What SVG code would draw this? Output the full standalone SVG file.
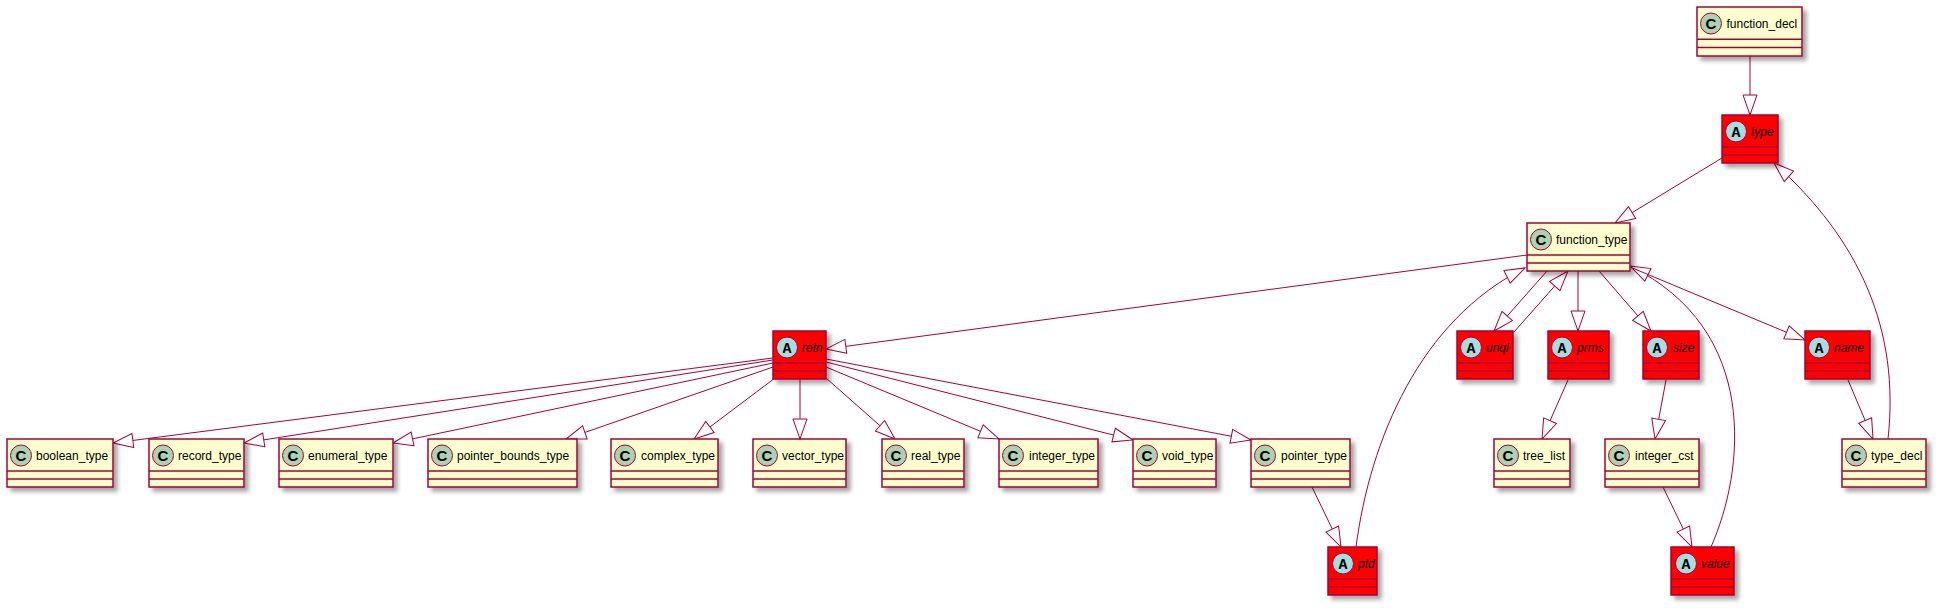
<svg xmlns="http://www.w3.org/2000/svg" width="1944" height="613" viewBox="0 0 1944 613">
<style>
.box{stroke:#A80036;stroke-width:1.5;filter:url(#sh)}
.c .box{fill:#FEFECE}
.a .box{fill:#FF0000}
.div{stroke:#A80036;stroke-width:1.5}
.ci{fill:#ADD1B2;stroke:#A80036;stroke-width:1}
.ai{fill:#A9DCDF;stroke:#A80036;stroke-width:1}
.ic{font-family:"Liberation Sans",Arial,sans-serif;font-weight:bold;font-size:15px;text-anchor:middle;fill:#000}
.ia{font-family:"Liberation Mono","Courier New",monospace;font-weight:bold;font-size:15px;text-anchor:middle;fill:#000}
.lbl{font-family:"Liberation Sans",Arial,sans-serif;font-size:12px;fill:#000}
.a .lbl{font-style:italic}
.e path{fill:none;stroke:#A80036;stroke-width:1;marker-end:url(#tri)}
</style>
<defs>
<filter id="sh" x="-10%" y="-10%" width="140%" height="150%">
<feGaussianBlur in="SourceAlpha" stdDeviation="2"/>
<feOffset dx="4" dy="4" result="o"/>
<feComponentTransfer><feFuncA type="linear" slope="0.35"/></feComponentTransfer>
<feMerge><feMergeNode/><feMergeNode in="SourceGraphic"/></feMerge>
</filter>
<marker id="tri" markerUnits="userSpaceOnUse" markerWidth="22" markerHeight="16" viewBox="0 0 22 16" refX="21" refY="8" orient="auto">
<path d="M1,1 L21,8 L1,15 Z" fill="#FFFFFF" stroke="#A80036" stroke-width="1"/>
</marker>
</defs>
<rect width="1944" height="613" fill="#FFFFFF"/>

<g id="connectors" class="e">
<path d="M1750,56 L1750,115"/>
<path d="M1722,158 L1615,223"/>
<path d="M1888,439 C1900,330 1860,240 1774,163"/>
<path d="M1527,255 L826,349"/>
<path d="M773,358 L113,443"/>
<path d="M773,360 L244,443"/>
<path d="M773,363 L393,443"/>
<path d="M773,367 L566,439"/>
<path d="M775,378 L694,439"/>
<path d="M800,379 L800,439"/>
<path d="M826,378 L895,439"/>
<path d="M826,367 L999,439"/>
<path d="M826,362 L1133,440"/>
<path d="M826,359 L1251,440"/>
<path d="M1312,487 L1341,547"/>
<path d="M1356,547 C1370,440 1420,320 1525,268"/>
<path d="M1547,271 L1494,331"/>
<path d="M1514,332 L1568,271"/>
<path d="M1578,271 L1578,331"/>
<path d="M1599,271 L1651,331"/>
<path d="M1568,380 L1542,439"/>
<path d="M1666,380 L1655,439"/>
<path d="M1663,487 L1692,547"/>
<path d="M1711,547 C1745,470 1760,330 1630,266"/>
<path d="M1630,267 L1805,340"/>
<path d="M1848,380 L1873,439"/>
</g>

<g id="function_decl" class="c"><rect class="box" x="1697" y="7" width="105" height="49"/><line class="div" x1="1697" y1="39.3" x2="1802" y2="39.3"/><line class="div" x1="1697" y1="47.5" x2="1802" y2="47.5"/><circle class="ci" cx="1711" cy="23.5" r="10.5"/><text class="ic" x="1711" y="28.8">C</text><text class="lbl" x="1726.5" y="28">function_decl</text></g>

<g id="type" class="a"><rect class="box" x="1722" y="115" width="56" height="48"/><line class="div" x1="1722" y1="147" x2="1778" y2="147"/><line class="div" x1="1722" y1="155" x2="1778" y2="155"/><circle class="ci ai" cx="1736" cy="131.5" r="10.5"/><text class="ia" x="1736" y="136.5">A</text><text class="lbl" x="1751" y="136">type</text></g>

<g id="function_type" class="c"><rect class="box" x="1527" y="223" width="103" height="48"/><line class="div" x1="1527" y1="255" x2="1630" y2="255"/><line class="div" x1="1527" y1="263" x2="1630" y2="263"/><circle class="ci" cx="1541" cy="239.5" r="10.5"/><text class="ic" x="1541" y="244.8">C</text><text class="lbl" x="1556" y="244">function_type</text></g>

<g id="retn" class="a"><rect class="box" x="773" y="331" width="53" height="48"/><line class="div" x1="773" y1="363" x2="826" y2="363"/><line class="div" x1="773" y1="371" x2="826" y2="371"/><circle class="ci ai" cx="787" cy="347.5" r="10.5"/><text class="ia" x="787" y="352.5">A</text><text class="lbl" x="802" y="352">retn</text></g>

<g id="unql" class="a"><rect class="box" x="1457" y="331" width="56" height="48"/><line class="div" x1="1457" y1="363" x2="1513" y2="363"/><line class="div" x1="1457" y1="371" x2="1513" y2="371"/><circle class="ci ai" cx="1471" cy="347.5" r="10.5"/><text class="ia" x="1471" y="352.5">A</text><text class="lbl" x="1486" y="352">unql</text></g>

<g id="prms" class="a"><rect class="box" x="1548" y="331" width="61" height="48"/><line class="div" x1="1548" y1="363" x2="1609" y2="363"/><line class="div" x1="1548" y1="371" x2="1609" y2="371"/><circle class="ci ai" cx="1562" cy="347.5" r="10.5"/><text class="ia" x="1562" y="352.5">A</text><text class="lbl" x="1577" y="352">prms</text></g>

<g id="size" class="a"><rect class="box" x="1643" y="331" width="56" height="48"/><line class="div" x1="1643" y1="363" x2="1699" y2="363"/><line class="div" x1="1643" y1="371" x2="1699" y2="371"/><circle class="ci ai" cx="1657" cy="347.5" r="10.5"/><text class="ia" x="1657" y="352.5">A</text><text class="lbl" x="1673" y="352">size</text></g>

<g id="name" class="a"><rect class="box" x="1805" y="331" width="65" height="48"/><line class="div" x1="1805" y1="363" x2="1870" y2="363"/><line class="div" x1="1805" y1="371" x2="1870" y2="371"/><circle class="ci ai" cx="1819" cy="347.5" r="10.5"/><text class="ia" x="1819" y="352.5">A</text><text class="lbl" x="1834" y="352">name</text></g>

<g id="boolean_type" class="c"><rect class="box" x="7" y="439" width="106" height="48"/><line class="div" x1="7" y1="471" x2="113" y2="471"/><line class="div" x1="7" y1="479" x2="113" y2="479"/><circle class="ci" cx="21" cy="455.5" r="10.5"/><text class="ic" x="21" y="460.8">C</text><text class="lbl" x="36" y="460">boolean_type</text></g>

<g id="record_type" class="c"><rect class="box" x="149" y="439" width="95" height="48"/><line class="div" x1="149" y1="471" x2="244" y2="471"/><line class="div" x1="149" y1="479" x2="244" y2="479"/><circle class="ci" cx="163" cy="455.5" r="10.5"/><text class="ic" x="163" y="460.8">C</text><text class="lbl" x="178" y="460">record_type</text></g>

<g id="enumeral_type" class="c"><rect class="box" x="279" y="439" width="114" height="48"/><line class="div" x1="279" y1="471" x2="393" y2="471"/><line class="div" x1="279" y1="479" x2="393" y2="479"/><circle class="ci" cx="293" cy="455.5" r="10.5"/><text class="ic" x="293" y="460.8">C</text><text class="lbl" x="308" y="460">enumeral_type</text></g>

<g id="pointer_bounds_type" class="c"><rect class="box" x="428" y="439" width="149" height="48"/><line class="div" x1="428" y1="471" x2="577" y2="471"/><line class="div" x1="428" y1="479" x2="577" y2="479"/><circle class="ci" cx="442" cy="455.5" r="10.5"/><text class="ic" x="442" y="460.8">C</text><text class="lbl" x="457" y="460">pointer_bounds_type</text></g>

<g id="complex_type" class="c"><rect class="box" x="611" y="439" width="107" height="48"/><line class="div" x1="611" y1="471" x2="718" y2="471"/><line class="div" x1="611" y1="479" x2="718" y2="479"/><circle class="ci" cx="625" cy="455.5" r="10.5"/><text class="ic" x="625" y="460.8">C</text><text class="lbl" x="641" y="460">complex_type</text></g>

<g id="vector_type" class="c"><rect class="box" x="753" y="439" width="93" height="48"/><line class="div" x1="753" y1="471" x2="846" y2="471"/><line class="div" x1="753" y1="479" x2="846" y2="479"/><circle class="ci" cx="767" cy="455.5" r="10.5"/><text class="ic" x="767" y="460.8">C</text><text class="lbl" x="782" y="460">vector_type</text></g>

<g id="real_type" class="c"><rect class="box" x="882" y="439" width="82" height="48"/><line class="div" x1="882" y1="471" x2="964" y2="471"/><line class="div" x1="882" y1="479" x2="964" y2="479"/><circle class="ci" cx="896" cy="455.5" r="10.5"/><text class="ic" x="896" y="460.8">C</text><text class="lbl" x="911" y="460">real_type</text></g>

<g id="integer_type" class="c"><rect class="box" x="999" y="439" width="99" height="48"/><line class="div" x1="999" y1="471" x2="1098" y2="471"/><line class="div" x1="999" y1="479" x2="1098" y2="479"/><circle class="ci" cx="1013" cy="455.5" r="10.5"/><text class="ic" x="1013" y="460.8">C</text><text class="lbl" x="1029" y="460">integer_type</text></g>

<g id="void_type" class="c"><rect class="box" x="1133" y="439" width="83" height="48"/><line class="div" x1="1133" y1="471" x2="1216" y2="471"/><line class="div" x1="1133" y1="479" x2="1216" y2="479"/><circle class="ci" cx="1147" cy="455.5" r="10.5"/><text class="ic" x="1147" y="460.8">C</text><text class="lbl" x="1162" y="460">void_type</text></g>

<g id="pointer_type" class="c"><rect class="box" x="1251" y="439" width="99" height="48"/><line class="div" x1="1251" y1="471" x2="1350" y2="471"/><line class="div" x1="1251" y1="479" x2="1350" y2="479"/><circle class="ci" cx="1265" cy="455.5" r="10.5"/><text class="ic" x="1265" y="460.8">C</text><text class="lbl" x="1281" y="460">pointer_type</text></g>

<g id="tree_list" class="c"><rect class="box" x="1494" y="439" width="76" height="48"/><line class="div" x1="1494" y1="471" x2="1570" y2="471"/><line class="div" x1="1494" y1="479" x2="1570" y2="479"/><circle class="ci" cx="1508" cy="455.5" r="10.5"/><text class="ic" x="1508" y="460.8">C</text><text class="lbl" x="1523" y="460">tree_list</text></g>

<g id="integer_cst" class="c"><rect class="box" x="1605" y="439" width="94" height="48"/><line class="div" x1="1605" y1="471" x2="1699" y2="471"/><line class="div" x1="1605" y1="479" x2="1699" y2="479"/><circle class="ci" cx="1619" cy="455.5" r="10.5"/><text class="ic" x="1619" y="460.8">C</text><text class="lbl" x="1635" y="460">integer_cst</text></g>

<g id="type_decl" class="c"><rect class="box" x="1842" y="439" width="84" height="48"/><line class="div" x1="1842" y1="471" x2="1926" y2="471"/><line class="div" x1="1842" y1="479" x2="1926" y2="479"/><circle class="ci" cx="1856" cy="455.5" r="10.5"/><text class="ic" x="1856" y="460.8">C</text><text class="lbl" x="1871" y="460">type_decl</text></g>

<g id="ptd" class="a"><rect class="box" x="1328" y="547" width="49" height="48"/><line class="div" x1="1328" y1="579" x2="1377" y2="579"/><line class="div" x1="1328" y1="587" x2="1377" y2="587"/><circle class="ci ai" cx="1343" cy="563.5" r="10.5"/><text class="ia" x="1343" y="568.5">A</text><text class="lbl" x="1358" y="568">ptd</text></g>

<g id="value" class="a"><rect class="box" x="1671" y="547" width="63" height="48"/><line class="div" x1="1671" y1="579" x2="1734" y2="579"/><line class="div" x1="1671" y1="587" x2="1734" y2="587"/><circle class="ci ai" cx="1686" cy="563.5" r="10.5"/><text class="ia" x="1686" y="568.5">A</text><text class="lbl" x="1701" y="568">value</text></g>
</svg>
